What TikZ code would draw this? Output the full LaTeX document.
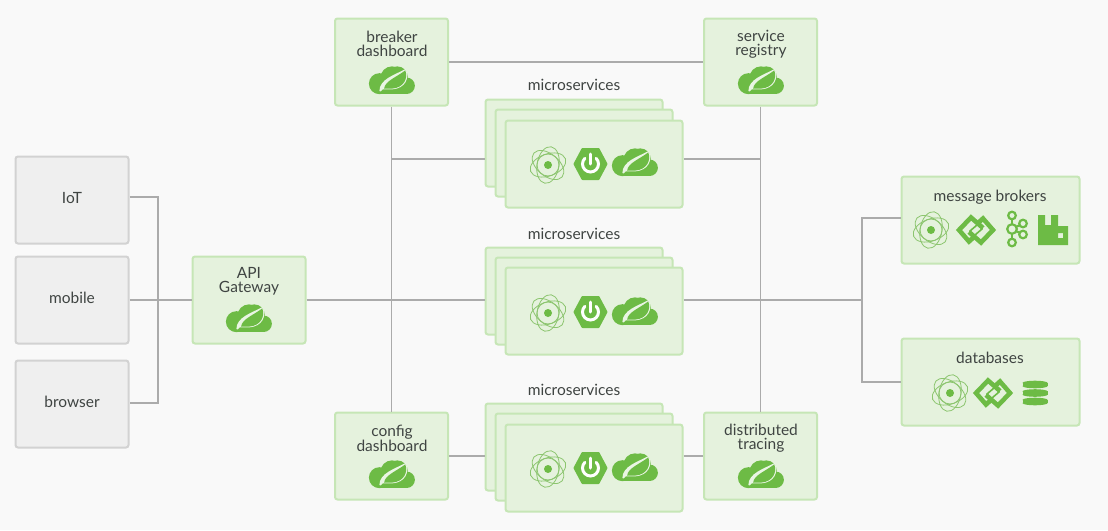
\documentclass[tikz,border=0pt]{standalone}
\usepackage{fontspec}
\setmainfont{Lato}
\definecolor{bgc}{HTML}{F9F9F9}
\definecolor{gfill}{HTML}{E5F2DD}
\definecolor{gline}{HTML}{C6E6B6}
\definecolor{grfill}{HTML}{EFEFEF}
\definecolor{grline}{HTML}{D2D2D2}
\definecolor{conn}{HTML}{ABABAB}
\definecolor{leaf}{HTML}{6DBB45}
\definecolor{atomc}{HTML}{8CC56F}
\definecolor{txt}{HTML}{3F4442}
\tikzset{
  x=1pt,y=-1pt,
  greenbox/.style={draw=gline,fill=gfill,line width=2pt,rounded corners=2.5pt,inner sep=0pt},
  greybox/.style={draw=grline,fill=grfill,line width=2pt,rounded corners=2.5pt,inner sep=0pt},
  tallbox/.style={minimum width=113pt,minimum height=87pt},
  stackbox/.style={minimum width=177pt,minimum height=87pt},
  widebox/.style={minimum width=178pt,minimum height=87pt},
  lbl/.style={text=txt,font=\fontsize{15.5}{14}\selectfont,align=center,inner sep=0pt},
  wire/.style={draw=conn,line width=1.1pt},
  pics/cloud/.style={code={
    \begin{scope}[scale=1.05]
    \fill[leaf] (-12,3.5) circle[radius=10];
    \fill[leaf] (0,-2) circle[radius=11];
    \fill[leaf] (5,-3) circle[radius=10];
    \fill[leaf] (14,5.5) circle[radius=7.8];
    \fill[leaf] (-12,3) rectangle (14,13.4);
    \fill[white!85!leaf] (-12,10.5) .. controls (-12,-1) and (3,-5) .. (13,-10.5)
      .. controls (17,-2) and (13,8) .. (0,9) -- (-9,9)
      .. controls (-10,10.5) and (-12,12) .. (-12,10.5) -- cycle;
    \fill[leaf] (-7.5,8.2) .. controls (-7,1) and (5,-3) .. (12.6,-9.2)
      .. controls (15.5,-2) and (11.5,7.4) .. (0,8.2) -- cycle;
    \end{scope}
  }},
  pics/atom/.style={code={
    \begin{scope}[draw=atomc,line width=.8pt]
      \draw (0,0) circle[radius=11];
      \draw[rotate=20] (0,0) ellipse[x radius=18.5,y radius=11];
      \draw[rotate=80] (0,0) ellipse[x radius=18.5,y radius=11];
      \draw[rotate=140] (0,0) ellipse[x radius=18.5,y radius=11];
    \end{scope}
    \fill[leaf] (0,0) circle[radius=4];
  }},
  pics/boot/.style={code={
    \fill[leaf,line join=round,draw=leaf,line width=2pt]
      (-16,0) -- (-8,-15) -- (8,-15) -- (16,0) -- (8,15) -- (-8,15) -- cycle;
    \draw[white,line width=3pt,line cap=round] (-5.66,-5.66) arc[start angle=225,end angle=-45,radius=8];
    \draw[white,line width=3pt,line cap=round] (0,-10) -- (0,0);
  }},
  pics/link/.style={code={
    \draw[leaf,line width=4.6pt,line join=miter]
      (7,-2) -- (-5,-12.5) -- (-17,0) -- (-7,11.5) -- (-1.5,6.5);
    \draw[leaf,line width=4.6pt,line join=miter]
      (-7,2) -- (5,12.5) -- (17,0) -- (7,-11.5) -- (1.5,-6.5);
    \draw[leaf,line width=1.6pt] (-6,5) -- (-6,1) -- (1,-5);
    \draw[leaf,line width=1.6pt] (6,-5) -- (6,-1) -- (-1,5);
  }},
  pics/kafka/.style={code={
    \begin{scope}[draw=leaf,line width=2.2pt]
      \draw (-5,-13.5) circle[radius=3.8];
      \draw (-5,0) circle[radius=4.8];
      \draw (-5,13.5) circle[radius=3.8];
      \draw (6,-5.5) circle[radius=3.8];
      \draw (6,5.5) circle[radius=3.8];
      \draw (-5,-9.7) -- (-5,-4.8);
      \draw (-5,4.8) -- (-5,9.7);
      \draw (-1,-2) -- (3,-4);
      \draw (-1,2) -- (3,4);
    \end{scope}
  }},
  pics/rabbit/.style={code={
    \fill[leaf,even odd rule] (-15,-15) -- (-8,-15) -- (-8,-5) -- (-2,-5) -- (-2,-15) -- (5,-15)
      -- (5,-4) -- (15,-4) -- (15,15) -- (-15,15) -- cycle
      (5,3) rectangle (10,8);
  }},
  pics/dbase/.style={code={
    \foreach \yy in {-8.5,0,8.5} {
      \fill[leaf] (-12.5,\yy-1.6) rectangle (12.5,\yy+1.6);
      \fill[leaf] (0,\yy-1.6) ellipse[x radius=12.5,y radius=2.2];
      \fill[leaf] (0,\yy+1.6) ellipse[x radius=12.5,y radius=2.2];
    }
  }},
}
\begin{document}
\begin{tikzpicture}
\useasboundingbox (0,0) rectangle (1108,530);
\fill[bgc] (0,0) rectangle (1108,530);

% connector junctions
\coordinate (jgrey) at (158,300);
\coordinate (jleft) at (391,159);
\coordinate (jbus) at (862,300);

% boxes
\node[greybox,tallbox] (iot) at (72,200) {};
\node[greybox,tallbox] (mobile) at (72,300) {};
\node[greybox,tallbox] (browser) at (72,404) {};
\node[greenbox,tallbox] (gateway) at (249,300) {};
\node[greenbox,tallbox] (breaker) at (391.5,62) {};
\node[greenbox,tallbox] (registry) at (760.5,62) {};
\node[greenbox,tallbox] (config) at (391.5,456) {};
\node[greenbox,tallbox] (tracing) at (760.5,456) {};
\node[greenbox,widebox] (brokers) at (990.5,220) {};
\node[greenbox,widebox] (databases) at (990.5,382) {};

% connectors
\draw[wire] (iot.east |- 0,197) -| (jgrey) |- (browser.east |- 0,403);
\draw[wire] (mobile.east) -- (gateway.west);
\draw[wire] (breaker.east) -- (registry.west);
\draw[wire] (breaker.south) -- (config.north);
\draw[wire] (registry.south) -- (tracing.north);
\draw[wire] (brokers.west |- 0,218) -| (jbus) |- (databases.west);

% microservice stacks
\node[greenbox,stackbox] (sa1) at (574,143) {};
\node[greenbox,stackbox] (sa2) at (584,153) {};
\node[greenbox,stackbox] (sa3) at (594,164) {};
\node[greenbox,stackbox] (sb1) at (574,291) {};
\node[greenbox,stackbox] (sb2) at (584,301) {};
\node[greenbox,stackbox] (sb3) at (594,311) {};
\node[greenbox,stackbox] (sc1) at (574,447) {};
\node[greenbox,stackbox] (sc2) at (584,457) {};
\node[greenbox,stackbox] (sc3) at (594,468) {};

\draw[wire] (jleft) -- (sa1.west |- jleft);
\draw[wire] (sa3.east |- jleft) -- (registry.south |- jleft);
\draw[wire] (gateway.east) -- (sb1.west |- gateway.east);
\draw[wire] (sb3.east |- jbus) -- (jbus);
\draw[wire] (config.east) -- (sc1.west |- config.east);
\draw[wire] (sc3.east |- tracing.west) -- (tracing.west);

% labels
\node[lbl] (tiot) at (72,198) {IoT};
\node[lbl] (tmobile) at (72,298) {mobile};
\node[lbl] (tbrowser) at (72,402) {browser};
\node[lbl] (tgateway) at (249,281) {API\\Gateway};
\node[lbl] (tbreaker) at (392,44) {breaker\\dashboard};
\node[lbl] (tregistry) at (761,44) {service\\registry};
\node[lbl] (tconfig) at (392,438) {config\\dashboard};
\node[lbl] (ttracing) at (761,438) {distributed\\tracing};
\node[lbl] (tma) at (574,85) {microservices};
\node[lbl] (tmb) at (574,234) {microservices};
\node[lbl] (tmc) at (574,390) {microservices};
\node[lbl] (tbrokers) at (990,197) {message brokers};
\node[lbl] (tdatabases) at (990,358) {databases};

% icons
\pic at (392,80) {cloud};
\pic at (761,80) {cloud};
\pic at (392,474) {cloud};
\pic at (761,474) {cloud};
\pic at (249,318) {cloud};
\pic at (548,165) {atom};
\pic at (590.5,164) {boot};
\pic at (635,162) {cloud};
\pic at (548,313) {atom};
\pic at (590.5,312) {boot};
\pic at (635,311) {cloud};
\pic at (548,469) {atom};
\pic at (590.5,468) {boot};
\pic at (635,467) {cloud};
\pic at (931,230) {atom};
\pic at (976,230) {link};
\pic at (1017,229) {kafka};
\pic at (1053,230) {rabbit};
\pic at (950,393) {atom};
\pic at (993,393) {link};
\pic at (1035,393) {dbase};
\end{tikzpicture}
\end{document}
